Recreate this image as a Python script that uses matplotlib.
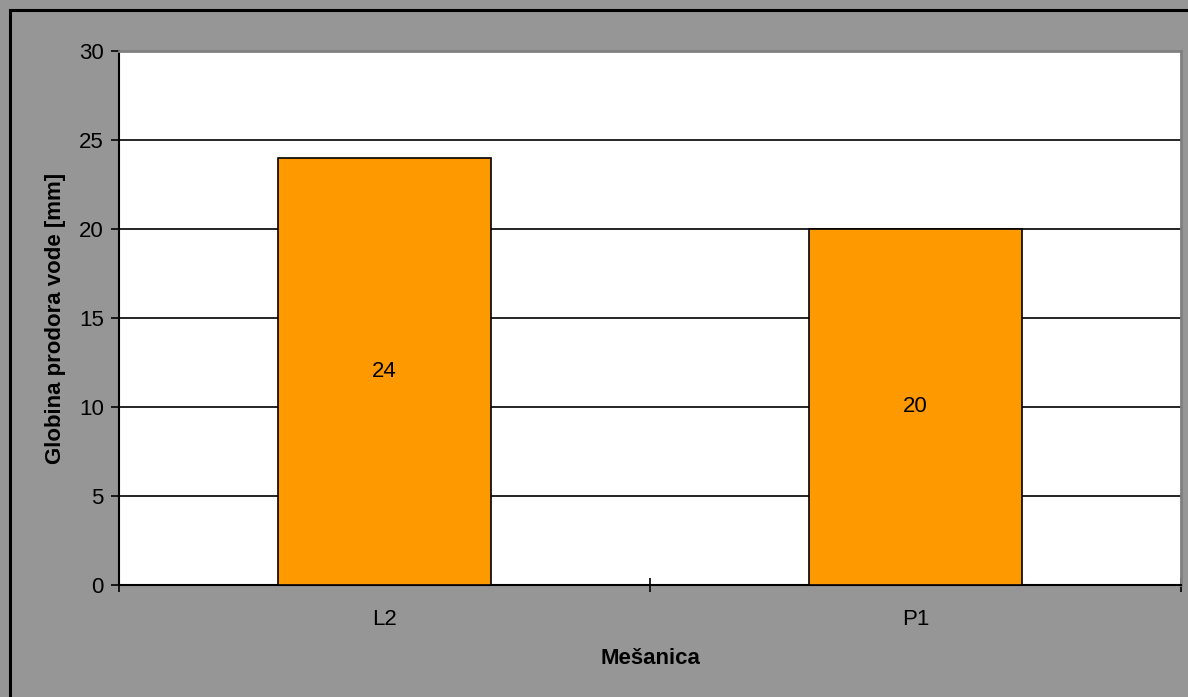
import matplotlib.pyplot as plt
from matplotlib.patches import Rectangle

categories = ["L2", "P1"]
values = [24, 20]
yticks = [0, 5, 10, 15, 20, 25, 30]

plt.rcParams['font.family'] = ['Liberation Sans', 'DejaVu Sans']

fig = plt.figure(figsize=(11.88, 6.97), dpi=100)
fig.patch.set_facecolor('#969696')
# outer frame (left and top edges visible, rest cropped)
fig.patches.append(Rectangle((10 / 1188, -0.01), 1.05, 1 - 10 / 697 + 0.01,
                             transform=fig.transFigure, fill=False,
                             edgecolor='black', linewidth=2.2))

ax = fig.add_axes([119 / 1188, 1 - 585 / 697, (1181 - 119) / 1188, (585 - 51) / 697])
ax.set_facecolor('white')

x = list(range(len(categories)))
bars = ax.bar(x, values, width=0.4, color='#FF9900', edgecolor='black',
              linewidth=1.2, zorder=3)
for b, v in zip(bars, values):
    ax.text(b.get_x() + b.get_width() / 2, v / 2, str(v), ha='center',
            va='center', fontsize=16, zorder=4)

ax.set_xlim(-0.5, len(categories) - 0.5)
ax.set_ylim(0, 30)
ax.set_yticks(yticks)
ax.tick_params(axis='y', labelsize=16, direction='out', length=6, width=1.2, pad=5)
ax.set_xticks([i - 0.5 for i in range(len(categories) + 1)])
ax.set_xticklabels([])
ax.set_xticks(x, minor=True)
ax.set_xticklabels(categories, minor=True)
ax.tick_params(axis='x', which='major', direction='inout', length=10, width=1.2)
ax.tick_params(axis='x', which='minor', length=0, labelsize=16, pad=17)

for y in yticks[1:-1]:
    ax.axhline(y, color='black', linewidth=1.2, zorder=1)

ax.spines['left'].set_linewidth(1.5)
ax.spines['bottom'].set_linewidth(1.5)
ax.spines['top'].set_color('#808080')
ax.spines['right'].set_color('#808080')
ax.spines['top'].set_linewidth(2)
ax.spines['right'].set_linewidth(2)

ax.set_ylabel("Globina prodora vode [mm]", fontsize=16, fontweight='bold', labelpad=9)
ax.set_xlabel("Mešanica", fontsize=16, fontweight='bold', labelpad=13)

fig.savefig("out.png", dpi=100, facecolor=fig.get_facecolor())
